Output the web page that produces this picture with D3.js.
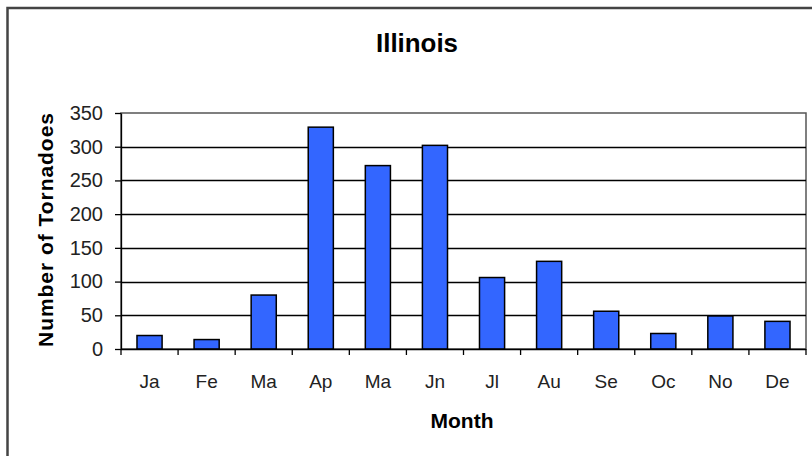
<!DOCTYPE html>
<html><head><meta charset="utf-8">
<script src="https://cdn.jsdelivr.net/npm/d3@7"></script>
<style>body{margin:0;background:#fff;}svg{display:block;font-family:Arial,"Liberation Sans",sans-serif;}</style>
</head><body>
<script>
const months = ["Ja","Fe","Ma","Ap","Ma","Jn","Jl","Au","Se","Oc","No","De"];
const tornadoes = [20,14,80,329,272,302,106,130,56,23,49,41];
const yTicks = [0,50,100,150,200,250,300,350];
const titleText = "Illinois";
const xTitle = "Month";
const yTitle = "Number of Tornadoes";

const W=812,H=456;
const svg=d3.select("body").append("svg").attr("width",W).attr("height",H);
svg.append("rect").attr("width",W).attr("height",H).attr("fill","#fff");
svg.append("rect").attr("x",7.5).attr("y",8).attr("width",W+10).attr("height",H+10)
  .attr("fill","none").attr("stroke","#444").attr("stroke-width",2.5);

const L=121,R=806,T=113,B=349;
const x=d3.scaleBand().domain(d3.range(months.length)).range([L,R]).paddingInner(0.56).paddingOuter(0.28);
const xc=d3.scaleBand().domain(d3.range(months.length)).range([L,R]);
const y=d3.scaleLinear().domain([0,350]).range([B,T]);

// plot frame
svg.append("rect").attr("x",L).attr("y",T).attr("width",R-L).attr("height",B-T)
  .attr("fill","none").attr("stroke","#555").attr("stroke-width",1.5);
// gridlines
svg.append("g").selectAll("line").data(yTicks.filter(d=>d>0&&d<350)).join("line")
  .attr("x1",L).attr("x2",R).attr("y1",d=>Math.round(y(d))+0.5).attr("y2",d=>Math.round(y(d))+0.5)
  .attr("stroke","#000").attr("stroke-width",1.3);

// bars
svg.append("g").selectAll("rect").data(tornadoes).join("rect")
  .attr("x",(d,i)=>x(i)).attr("width",x.bandwidth())
  .attr("y",d=>y(d)).attr("height",d=>B-y(d))
  .attr("fill","#3366FF").attr("stroke","#000").attr("stroke-width",1.5);

// y axis
const ya=svg.append("g").attr("transform",`translate(${L},0)`)
  .call(d3.axisLeft(y).tickValues(yTicks).tickSize(6).tickPadding(12).tickSizeOuter(0));
ya.select(".domain").attr("stroke","#000").attr("stroke-width",1.3);
ya.selectAll(".tick line").attr("stroke","#000").attr("stroke-width",1.3);
ya.selectAll("text").attr("font-size",20).attr("fill","#222").attr("font-family","Arial, 'Liberation Sans', sans-serif");

// x axis
const xa=svg.append("g").attr("transform",`translate(0,${B})`);
xa.append("line").attr("x1",L).attr("x2",R).attr("y1",0.5).attr("y2",0.5).attr("stroke","#000").attr("stroke-width",1.3);
xa.selectAll("line.tk").data(d3.range(months.length+1)).join("line").attr("class","tk")
  .attr("x1",i=>i<months.length?xc(i):R).attr("x2",i=>i<months.length?xc(i):R)
  .attr("y1",0).attr("y2",6).attr("stroke","#000").attr("stroke-width",1.3);
xa.selectAll("text").data(months).join("text")
  .attr("x",(d,i)=>xc(i)+xc.bandwidth()/2).attr("y",39)
  .attr("text-anchor","middle").attr("font-size",19).attr("fill","#222").text(d=>d);

// titles
svg.append("text").attr("x",417).attr("y",52).attr("text-anchor","middle")
  .attr("font-size",26).attr("font-weight","bold").attr("textLength",82).attr("lengthAdjust","spacingAndGlyphs").text(titleText);
svg.append("text").attr("x",462).attr("y",428).attr("text-anchor","middle")
  .attr("font-size",21).attr("font-weight","bold").text(xTitle);
svg.append("text").attr("transform","translate(53,230) rotate(-90)").attr("text-anchor","middle")
  .attr("font-size",21).attr("font-weight","bold").attr("textLength",234).attr("lengthAdjust","spacing").text(yTitle);
</script>
</body></html>
